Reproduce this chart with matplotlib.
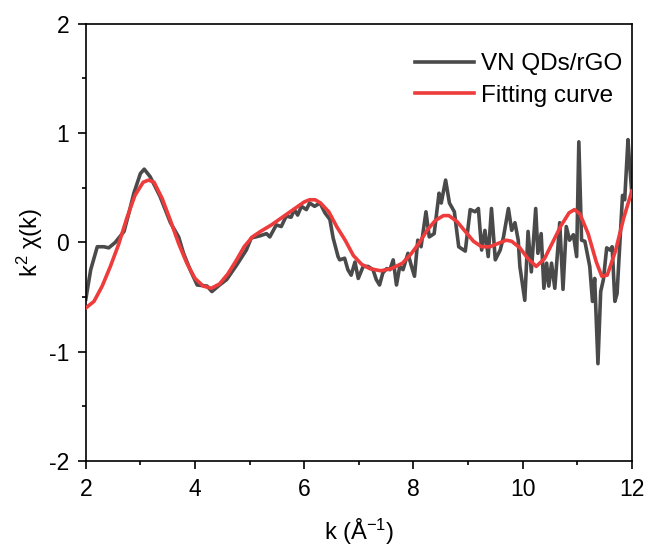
import matplotlib
matplotlib.use("Agg")
import matplotlib.pyplot as plt
from matplotlib.ticker import MultipleLocator

plt.rcParams['font.family'] = ['Liberation Sans', 'DejaVu Sans']
plt.rcParams['mathtext.fontset'] = 'custom'
plt.rcParams['mathtext.rm'] = 'Liberation Sans'
plt.rcParams['mathtext.it'] = 'Liberation Sans'
plt.rcParams['mathtext.bf'] = 'Liberation Sans'
plt.rcParams['axes.unicode_minus'] = False

# Experimental data (VN QDs/rGO)
k_exp = [2.0, 2.09, 2.21, 2.33, 2.42, 2.54, 2.70, 2.79, 2.88, 3.0, 3.07, 3.18, 3.36, 3.55,
         3.70, 3.79, 3.91, 4.04, 4.22, 4.31, 4.45, 4.58, 4.76, 4.94, 5.03, 5.19, 5.31, 5.37,
         5.49, 5.58, 5.67, 5.76, 5.82, 5.88, 5.95, 6.04, 6.10, 6.19, 6.29, 6.38, 6.47, 6.53,
         6.62, 6.65, 6.74, 6.80, 6.86, 6.93, 6.99, 7.08, 7.17, 7.26, 7.32, 7.38, 7.44, 7.51,
         7.57, 7.63, 7.69, 7.75, 7.81, 7.90, 7.96, 8.02, 8.08, 8.14, 8.23, 8.29, 8.38, 8.47,
         8.51, 8.59, 8.66, 8.75, 8.83, 8.95, 9.04, 9.13, 9.19, 9.25, 9.31, 9.37, 9.43, 9.50,
         9.59, 9.65, 9.74, 9.80, 9.86, 9.92, 9.95, 10.04, 10.10, 10.16, 10.24, 10.28, 10.34,
         10.39, 10.44, 10.48, 10.53, 10.59, 10.68, 10.74, 10.80, 10.86, 10.93, 10.99, 11.03,
         11.08, 11.14, 11.23, 11.28, 11.32, 11.38, 11.43, 11.48, 11.54, 11.60, 11.64, 11.69,
         11.73, 11.83, 11.87, 11.93, 11.96, 12.0]
chi_exp = [-0.52, -0.25, -0.04, -0.04, -0.05, 0.0, 0.10, 0.27, 0.45, 0.63, 0.67, 0.60, 0.42, 0.18,
           0.05, -0.10, -0.25, -0.39, -0.40, -0.45, -0.39, -0.34, -0.21, -0.07, 0.04, 0.06, 0.08, 0.05,
           0.16, 0.145, 0.24, 0.23, 0.30, 0.25, 0.33, 0.30, 0.36, 0.33, 0.36, 0.27, 0.21, 0.04,
           -0.13, -0.16, -0.145, -0.25, -0.30, -0.18, -0.33, -0.22, -0.22, -0.25, -0.34, -0.39, -0.28, -0.24,
           -0.25, -0.16, -0.39, -0.22, -0.25, -0.10, -0.21, -0.31, 0.02, -0.04, 0.28, 0.05, 0.08, 0.45,
           0.36, 0.57, 0.36, 0.28, -0.04, -0.08, 0.30, 0.28, 0.31, -0.07, 0.11, -0.13, 0.31, -0.16,
           -0.07, 0.05, 0.31, 0.11, 0.18, 0.02, -0.22, -0.53, 0.10, -0.27, 0.31, -0.10, 0.08,
           -0.42, -0.19, -0.40, -0.19, -0.42, 0.18, -0.43, 0.145, 0.02, 0.07, -0.13, 0.92,
           0.02, 0.01, -0.22, -0.54, -0.33, -1.11, -0.45, -0.34, -0.05, -0.07, -0.04, -0.54,
           -0.47, 0.43, 0.39, 0.94, 0.72, 0.45]

# Fitting curve
k_fit = [2.0, 2.15, 2.3, 2.45, 2.6, 2.75, 2.9, 3.05, 3.15, 3.25, 3.4, 3.55, 3.7, 3.85, 4.0,
         4.15, 4.3, 4.45, 4.6, 4.75, 4.9, 5.05, 5.2, 5.4, 5.6, 5.8, 6.0, 6.1, 6.2, 6.3, 6.45,
         6.6, 6.75, 6.9, 7.05, 7.2, 7.4, 7.6, 7.8, 7.95, 8.1, 8.25, 8.4, 8.55, 8.65, 8.8, 8.95,
         9.1, 9.25, 9.4, 9.55, 9.7, 9.8, 9.95, 10.1, 10.25, 10.4, 10.55, 10.7, 10.85, 10.95,
         11.05, 11.2, 11.35, 11.45, 11.55, 11.7, 11.85, 12.0]
chi_fit = [-0.60, -0.54, -0.40, -0.22, -0.02, 0.22, 0.43, 0.55, 0.57, 0.55, 0.40, 0.20, -0.01,
           -0.19, -0.33, -0.40, -0.42, -0.38, -0.29, -0.17, -0.04, 0.05, 0.10, 0.16, 0.23, 0.30,
           0.37, 0.39, 0.39, 0.36, 0.28, 0.14, 0.02, -0.12, -0.20, -0.24, -0.26, -0.24, -0.19,
           -0.11, -0.01, 0.11, 0.20, 0.245, 0.245, 0.19, 0.10, 0.01, -0.04, -0.04, -0.01, 0.02,
           0.01, -0.05, -0.15, -0.22, -0.15, 0.0, 0.15, 0.27, 0.30, 0.26, 0.08, -0.18, -0.31,
           -0.30, -0.08, 0.22, 0.47]

fig = plt.figure(figsize=(6.5, 5.54), dpi=100)
ax = fig.add_axes([0.132, 0.168, 0.840, 0.789])

ax.plot(k_exp, chi_exp, color='#4a4a4a', lw=2.6, label='VN QDs/rGO', zorder=2)
ax.plot(k_fit, chi_fit, color='#ee3b3b', lw=2.6, label='Fitting curve', zorder=3)

ax.set_xlim(2, 12)
ax.set_ylim(-2, 2)
ax.xaxis.set_major_locator(MultipleLocator(2))
ax.xaxis.set_minor_locator(MultipleLocator(1))
ax.yaxis.set_major_locator(MultipleLocator(1))
ax.yaxis.set_minor_locator(MultipleLocator(0.5))
ax.tick_params(which='both', direction='out', top=False, right=False, labelsize=16.5, width=1.2)
ax.tick_params(which='major', length=6, pad=6)
ax.tick_params(which='minor', length=3)
for s in ax.spines.values():
    s.set_linewidth(1.2)

ax.set_xlabel('k (Å$^{-1}$)', fontsize=17, labelpad=12)
ax.set_ylabel('k$^{2}$ χ(k)', fontsize=17, labelpad=3)

ax.legend(loc='upper right', bbox_to_anchor=(1.0, 0.955), frameon=False, fontsize=17.5,
          handlelength=2.4, handletextpad=0.3, labelspacing=0.4, borderaxespad=0.2, borderpad=0.2)

fig.savefig('out.png', dpi=100)
